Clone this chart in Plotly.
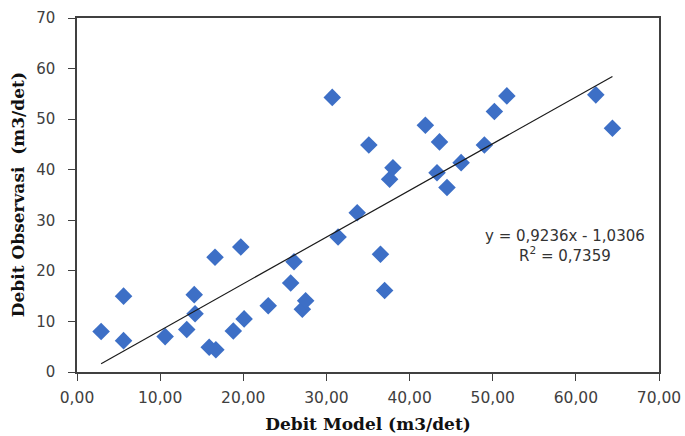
import numpy as np
import plotly.graph_objects as go

# Data
debit_model = [2.9, 5.6, 5.6, 10.6, 13.2, 14.1, 14.2, 15.9, 16.7, 16.6, 18.8, 19.7,
               20.1, 23.0, 25.7, 26.1, 27.1, 27.5, 31.4, 30.7, 33.7, 35.1, 36.5, 37.0,
               37.6, 38.0, 41.9, 43.3, 43.6, 44.5, 46.2, 49.0, 50.2, 51.7, 62.4, 64.4]
debit_obs = [8.0, 6.2, 15.0, 7.0, 8.4, 15.3, 11.5, 4.9, 4.4, 22.7, 8.1, 24.7,
             10.5, 13.1, 17.6, 21.8, 12.4, 14.1, 26.7, 54.3, 31.5, 44.9, 23.3, 16.1,
             38.1, 40.4, 48.8, 39.4, 45.5, 36.5, 41.4, 44.9, 51.5, 54.6, 54.8, 48.2]

slope = 0.9236
intercept = -1.0306
r_squared = 0.7359

x_ticks = [0, 10, 20, 30, 40, 50, 60, 70]
y_ticks = [0, 10, 20, 30, 40, 50, 60, 70]

x_line = np.array([min(debit_model), max(debit_model)])
y_line = slope * x_line + intercept

fig = go.Figure()
fig.add_trace(go.Scatter(
    x=debit_model, y=debit_obs, mode="markers",
    marker=dict(symbol="diamond", size=13.5, color="#3D6FC6",
                line=dict(width=0)),
    showlegend=False, hoverinfo="x+y"))
fig.add_trace(go.Scatter(
    x=x_line, y=y_line, mode="lines",
    line=dict(color="#1a1a1a", width=1.2),
    showlegend=False, hoverinfo="skip"))

eq_text = ("y = " + f"{slope:.4f}".replace(".", ",") + "x - "
           + f"{abs(intercept):.4f}".replace(".", ",")
           + "<br>R<sup>2</sup> = " + f"{r_squared:.4f}".replace(".", ","))
fig.add_annotation(x=58.7, y=25.0, text=eq_text, showarrow=False,
                   xref="x", yref="y", align="center",
                   font=dict(family="DejaVu Sans", size=15, color="#333333"))

# y-axis title placed as rotated text to match the reference position
fig.add_annotation(x=-0.101, y=0.5, xref="paper", yref="paper",
                   text="Debit Observasi  (m3/det)", textangle=-90,
                   showarrow=False, xanchor="center", yanchor="middle",
                   font=dict(family="DejaVu Serif", size=17, color="#111111",
                             weight="bold"))

fig.update_layout(
    width=685, height=436,
    margin=dict(l=77, r=26, t=18, b=64),
    paper_bgcolor="white", plot_bgcolor="white",
    separators=",.",
    font=dict(family="DejaVu Sans", color="#404040"),
)
fig.update_xaxes(
    range=[0, 70], tickvals=x_ticks, tickformat=".2f", automargin=False,
    showgrid=False, zeroline=False,
    showline=True, linecolor="#404040", linewidth=1.5, mirror=True,
    ticks="outside", ticklen=7, tickcolor="#404040", tickwidth=1.2,
    ticklabelstandoff=4,
    tickfont=dict(family="DejaVu Sans", size=15.5, color="#404040"),
    title=dict(text="Debit Model (m3/det)", standoff=12,
               font=dict(family="DejaVu Serif", size=17, color="#111111",
                         weight="bold")),
)
fig.update_yaxes(
    range=[0, 70], tickvals=y_ticks, tickformat="d", automargin=False,
    showgrid=False, zeroline=False,
    showline=True, linecolor="#404040", linewidth=1.5, mirror=True,
    ticks="outside", ticklen=7, tickcolor="#404040", tickwidth=1.2,
    ticklabelstandoff=10,
    tickfont=dict(family="DejaVu Sans", size=15, color="#404040"),
)

fig.write_html(
    "out.html",
    config={"displayModeBar": False},
    post_script="document.body.style.margin='0';document.body.style.overflow='hidden';",
)
